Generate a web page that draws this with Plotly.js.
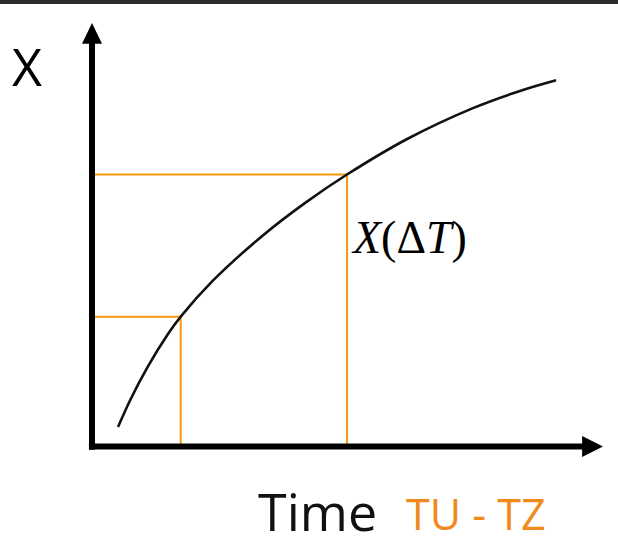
<!DOCTYPE html>
<html>
<head>
<meta charset="utf-8">
<script src="https://cdn.plot.ly/plotly-3.0.1.min.js"></script>
<style>html,body{margin:0;padding:0;background:#fff;}#chart{width:618px;height:536px;}</style>
</head>
<body>
<div id="chart"></div>
<script>
// Curve (time, X)
const curveTime = [0.51, 0.75, 1.10, 1.49, 1.74, 2.37, 3.35, 4.18, 5.00, 6.18, 7.47, 8.45, 9.10];
const curveX    = [0.46, 1.10, 1.90, 2.66, 3.07, 3.92, 4.99, 5.76, 6.43, 7.27, 8.00, 8.43, 8.66];
// Marked points on the curve (orange guide lines)
const markTime = [1.74, 5.00];
const markX    = [3.07, 6.43];
// Axis extents (shaft end and arrow tip, in axis units)
const axisEndT = 9.61, tipT = 10.02;
const axisEndX = 9.52, tipX = 10.01;
// Labels
const yLabel = 'X';
const xLabel = 'Time';
const xSubLabel = 'TU - TZ';
const curveLabel = '<i>X</i>(Δ<i>T</i>)';

const ORANGE = '#F39A12';
const W = 618, H = 536;
const PXT = 51, PXX = 42.3;           // pixels per axis unit
const px = v => v / W, py = v => 1 - v / H;
const halfT = 10 / PXT, halfX = 10.5 / PXX;  // arrowhead half-widths

const traces = [];
markTime.forEach((t, i) => {
  traces.push({x: [0, t, t], y: [markX[i], markX[i], 0], mode: 'lines',
    line: {color: ORANGE, width: 2}, hoverinfo: 'skip', showlegend: false});
});
traces.push({x: curveTime, y: curveX, mode: 'lines',
  line: {color: '#111', width: 2.6, shape: 'spline', smoothing: 0.9}, hoverinfo: 'skip', showlegend: false});

const layout = {
  width: W, height: H,
  margin: {l: 0, r: 0, t: 0, b: 0},
  paper_bgcolor: '#fff', plot_bgcolor: '#fff',
  xaxis: {range: [-92/PXT, 526/PXT], visible: false, fixedrange: true},
  yaxis: {range: [-89.5/PXX, 446.5/PXX], visible: false, fixedrange: true},
  shapes: [
    {type: 'rect', xref: 'paper', yref: 'paper', x0: 0, x1: 1, y0: py(4), y1: 1, fillcolor: '#2b2b2b', line: {width: 0}, layer: 'above'},
    {type: 'line', xref: 'x', yref: 'y', x0: 0, x1: 0, y0: -0.075, y1: axisEndX + 0.02, line: {color: '#000', width: 6}, layer: 'above'},
    {type: 'line', xref: 'x', yref: 'y', x0: -0.06, x1: axisEndT + 0.02, y0: 0, y1: 0, line: {color: '#000', width: 6}, layer: 'above'},
    {type: 'path', xref: 'x', yref: 'y', path: `M ${-halfT} ${axisEndX} L ${halfT} ${axisEndX} L 0 ${tipX} Z`, fillcolor: '#000', line: {width: 0}, layer: 'above'},
    {type: 'path', xref: 'x', yref: 'y', path: `M ${axisEndT} ${-halfX} L ${axisEndT} ${halfX} L ${tipT} 0 Z`, fillcolor: '#000', line: {width: 0}, layer: 'above'}
  ],
  annotations: [
    {text: yLabel, xref: 'paper', yref: 'paper', x: px(27), y: py(65), xanchor: 'center', yanchor: 'middle', showarrow: false,
      font: {family: 'Open Sans', size: 52, color: '#000'}},
    {text: curveLabel, xref: 'paper', yref: 'paper', x: px(409), y: py(237), xanchor: 'center', yanchor: 'middle', showarrow: false,
      font: {family: 'Liberation Serif', size: 46, color: '#000'}},
    {text: xLabel, xref: 'paper', yref: 'paper', x: px(317), y: py(510), xanchor: 'center', yanchor: 'middle', showarrow: false,
      font: {family: 'Open Sans', size: 52, color: '#111'}},
    {text: xSubLabel, xref: 'paper', yref: 'paper', x: px(476), y: py(513), xanchor: 'center', yanchor: 'middle', showarrow: false,
      font: {family: 'Open Sans', size: 43, color: '#F08A1C'}}
  ]
};
Plotly.newPlot('chart', traces, layout, {displayModeBar: false, staticPlot: true});
</script>
</body>
</html>
